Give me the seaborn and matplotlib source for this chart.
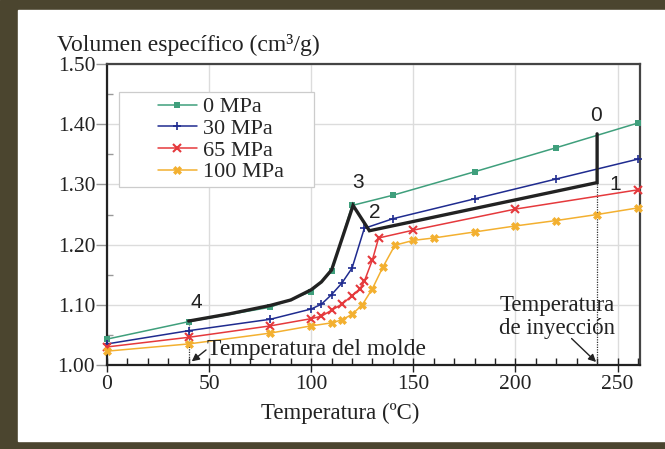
import numpy as np
import pandas as pd
import matplotlib
matplotlib.use("Agg")
import matplotlib.pyplot as plt
import seaborn as sns
from matplotlib.patches import Rectangle
from matplotlib.ticker import MultipleLocator, FormatStrFormatter

# PVT curves: specific volume vs temperature at four pressures
t_0 = [0, 40, 80, 100, 110, 120, 140, 180, 220, 260]
v_0 = [1.043, 1.072, 1.096, 1.122, 1.156, 1.265, 1.282, 1.321, 1.361, 1.402]

t_30 = [0, 40, 80, 100, 105, 110, 115, 120, 126, 140, 180, 220, 260]
v_30 = [1.035, 1.057, 1.076, 1.093, 1.101, 1.117, 1.136, 1.161, 1.227, 1.243, 1.276, 1.309, 1.342]

t_65 = [0, 40, 80, 100, 105, 110, 115, 120, 124, 126, 130, 133, 150, 200, 260]
v_65 = [1.030, 1.046, 1.065, 1.077, 1.081, 1.091, 1.101, 1.115, 1.127, 1.139, 1.175, 1.211, 1.224, 1.259, 1.291]

t_100 = [0, 40, 80, 100, 110, 115, 120, 125, 130, 135, 141, 150, 160, 180, 200, 220, 240, 260]
v_100 = [1.023, 1.035, 1.053, 1.065, 1.070, 1.075, 1.084, 1.100, 1.127, 1.162, 1.199, 1.207, 1.211, 1.221, 1.231, 1.240, 1.250, 1.261]

series_labels = ["0 MPa", "30 MPa", "65 MPa", "100 MPa"]

# Injection-moulding cycle path 4 -> 3 -> 2 -> 1 -> 0
cycle_t = [40, 60, 80, 90, 100, 105, 110, 120.5, 128.5, 240, 240]
cycle_v = [1.073, 1.085, 1.099, 1.108, 1.125, 1.138, 1.158, 1.265, 1.223, 1.303, 1.384]
cycle_labels = ["0", "1", "2", "3", "4"]
cycle_label_t = [239.5, 249, 131, 123, 43.5]
cycle_label_v = [1.414, 1.300, 1.253, 1.303, 1.104]

T_MOLD = 40
T_INJ = 240

frames = []
for t, v, lab in zip([t_0, t_30, t_65, t_100], [v_0, v_30, v_65, v_100], series_labels):
    frames.append(pd.DataFrame({"T": t, "V": v, "P": lab}))
df = pd.concat(frames, ignore_index=True)

sns.set_theme(style="white")
plt.rcParams["font.family"] = ["Liberation Serif", "DejaVu Serif"]

W, H = 665, 449
fig = plt.figure(figsize=(W / 100, H / 100), dpi=100)
fig.patch.set_facecolor("white")

# dark frame along the left, top and bottom edges
frame_col = "#4b452f"
fig.patches.append(Rectangle((0, 0), 1, 1, transform=fig.transFigure, color=frame_col, zorder=-2))
fig.patches.append(Rectangle((18 / W, 8 / H), 1 - 18 / W, 1 - 18 / H, transform=fig.transFigure,
                             color="white", zorder=-1))

ax = fig.add_axes([107 / W, 1 - 365 / H, (640 - 107) / W, (365 - 64) / H])

palette = {"0 MPa": "#3f9f7c", "30 MPa": "#1f2b8f", "65 MPa": "#e5393c", "100 MPa": "#f3b030"}
styles = {
    "0 MPa": dict(marker="s", ms=4.2, mew=0),
    "30 MPa": dict(marker="+", ms=6, mew=1.2),
    "65 MPa": dict(marker="x", ms=5.5, mew=1.5),
    "100 MPa": dict(marker="X", ms=5.5, mew=0.5),
}

sns.lineplot(data=df, x="T", y="V", hue="P", palette=palette, sort=False,
             estimator=None, lw=1.1, ax=ax, legend=False, zorder=3)
for line, lab in zip(ax.get_lines(), series_labels):
    st = styles[lab]
    line.set_marker(st["marker"])
    line.set_markersize(st["ms"])
    line.set_markeredgewidth(st["mew"])
    line.set_markerfacecolor(palette[lab])
    line.set_markeredgecolor(palette[lab])
    line.set_label(lab)
    line.set_clip_on(False)

# cycle path
ax.plot(cycle_t, cycle_v, color="#222222", lw=2.4, zorder=4, solid_joinstyle="miter")
for s, x, y in zip(cycle_labels, cycle_label_t, cycle_label_v):
    ax.text(x, y, s, fontsize=15, family="Liberation Sans", color="#222222",
            ha="center", va="center", zorder=5)

# dotted guides at mould and injection temperatures
ax.plot([T_MOLD, T_MOLD], [1.00, cycle_v[0]], color="#333333", lw=0.9, ls=(0, (1, 1)), zorder=2)
ax.plot([T_INJ, T_INJ], [1.00, cycle_v[-2]], color="#333333", lw=0.9, ls=(0, (1, 1)), zorder=2)

arrow_kw = dict(arrowstyle="-|>", color="#222222", lw=1.0, mutation_scale=11,
                shrinkA=0, shrinkB=0)
ax.text(49, 1.026, "Temperatura del molde", fontsize=17, ha="left", va="center",
        color="#222222")
ax.annotate("", xy=(41.5, 1.006), xytext=(48.5, 1.025), arrowprops=arrow_kw)
ax.text(220.5, 1.079, "Temperatura\nde inyección", fontsize=16.5, ha="center", va="center",
        color="#222222", linespacing=1.12)
ax.annotate("", xy=(239.5, 1.005), xytext=(227.5, 1.044), arrowprops=arrow_kw)

ax.set_xlim(0, 261)
ax.set_ylim(1.00, 1.50)
ax.xaxis.set_major_locator(MultipleLocator(50))
ax.xaxis.set_minor_locator(MultipleLocator(10))
ax.yaxis.set_major_locator(MultipleLocator(0.10))
ax.yaxis.set_minor_locator(MultipleLocator(0.05))
ax.yaxis.set_major_formatter(FormatStrFormatter("%.2f"))
ax.grid(True, which="major", color="#dcdcdc", lw=1.0, zorder=0)
ax.set_axisbelow(True)

ax.tick_params(axis="x", which="major", direction="inout", length=10, width=1.0,
               labelsize=15.5, pad=2, bottom=True, color="#222222")
ax.tick_params(axis="x", which="minor", direction="in", length=5, width=1.0,
               bottom=True, color="#222222")
ax.tick_params(axis="y", which="major", direction="out", length=8, width=1.0,
               labelsize=15.5, pad=0.5, left=True, color="#999999")
ax.tick_params(axis="y", which="minor", direction="in", length=4, width=1.0,
               left=True, color="#999999")
for lbl in ax.get_xticklabels() + ax.get_yticklabels():
    lbl.set_color("#222222")

for side in ["left", "bottom", "top", "right"]:
    ax.spines[side].set_visible(True)
    ax.spines[side].set_color("#222222")
    ax.spines[side].set_linewidth(1.6)
ax.spines["top"].set_color("#444444")
ax.spines["right"].set_color("#444444")

ax.set_xlabel("")
ax.set_ylabel("")
fig.text(340 / W, 1 - 413 / H, "Temperatura (ºC)", fontsize=16.5,
         ha="center", va="center", color="#222222")
fig.text(57 / W, 1 - 45 / H, "Volumen específico (cm³/g)", fontsize=17,
         ha="left", va="center", color="#222222")

# legend box and entries
px_x = lambda p: (p - 107) / (640 - 107)
px_y = lambda p: (365 - p) / (365 - 64)
box = Rectangle((px_x(119), px_y(187)), px_x(314) - px_x(119), px_y(92) - px_y(187),
                transform=ax.transAxes, facecolor="white", edgecolor="#cccccc",
                lw=0.9, zorder=6)
ax.add_patch(box)
leg = ax.legend(loc="upper left", bbox_to_anchor=(px_x(150), px_y(89)), fontsize=16,
                frameon=False, handlelength=1.75, handletextpad=0.3, borderpad=0.35,
                labelspacing=0.05, borderaxespad=0)
leg.set_zorder(7)

fig.savefig("out.png", dpi=100, facecolor="white")
